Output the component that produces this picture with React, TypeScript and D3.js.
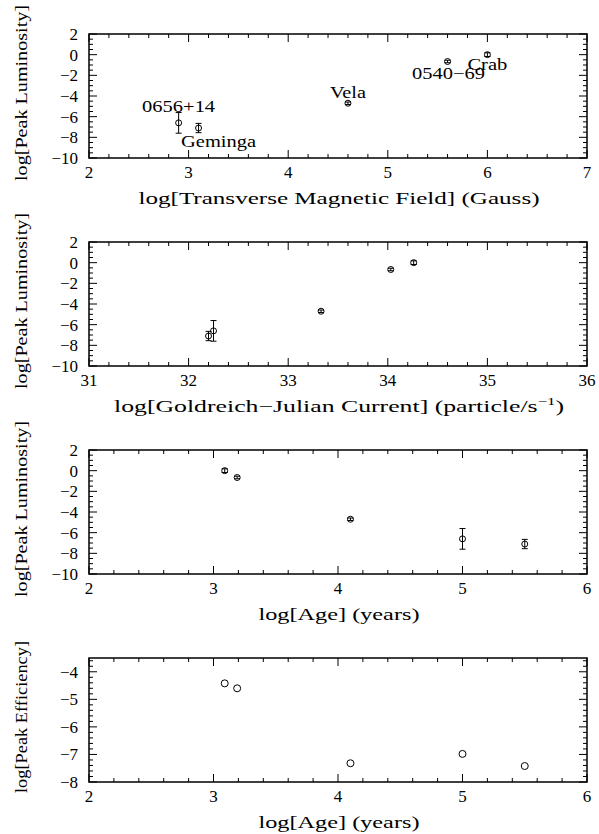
import React from 'react';
import * as d3 from 'd3';

// pulsar order: Crab, 0540-69, Vela, 0656+14, Geminga
const pulsars = ['Crab', '0540\u221269', 'Vela', '0656+14', 'Geminga'];
const logB = [6.0, 5.6, 4.6, 2.9, 3.1];
const logGJ = [34.26, 34.03, 33.33, 32.25, 32.2];
const logAge = [3.09, 3.19, 4.1, 5.0, 5.5];
const logLum = [0.0, -0.66, -4.7, -6.6, -7.1];
const lumErr = [0.18, 0.12, 0.12, 1.0, 0.45];
const logEff = [-4.42, -4.6, -7.32, -6.98, -7.42];

// label placement for the top panel (dx, dy from the point, text width)
const labelOffsets: [number, number, number][] = [[0, 15, 40], [1, 18, 73], [0, -5, 36], [0, -11, 73], [20, 19, 75]];

const W = 599;
const H = 834;
const left = 89;
const right = 587;
const font = '"Liberation Serif", "Times New Roman", serif';
const fs = 17;

interface PanelProps {
  top: number;
  bottom: number;
  xDomain: [number, number];
  yDomain: [number, number];
  xs: number[];
  ys: number[];
  errs?: number[];
  xMinor: number;
  yMajor: number;
  yMinor: number;
  xLabel: React.ReactNode;
  xLabelLen: number;
  yLabel: string;
  yLabelLen: number;
  labels?: boolean;
  r?: number;
}

const range = (a: number, b: number, s: number) => {
  const out: number[] = [];
  const n = Math.round((b - a) / s);
  for (let i = 0; i <= n; i++) out.push(+(a + i * s).toFixed(6));
  return out;
};

const Panel: React.FC<PanelProps> = ({ top, bottom, xDomain, yDomain, xs, ys, errs, xMinor, yMajor, yMinor, xLabel, xLabelLen, yLabel, yLabelLen, labels, r = 3 }) => {
  const x = d3.scaleLinear().domain(xDomain).range([left, right]);
  const y = d3.scaleLinear().domain(yDomain).range([bottom, top]);
  const xMaj = range(xDomain[0], xDomain[1], 1);
  const xMin = range(xDomain[0], xDomain[1], xMinor);
  const yMaj = range(Math.ceil(yDomain[0] / yMajor) * yMajor, Math.floor(yDomain[1] / yMajor) * yMajor, yMajor);
  const yMin = range(Math.ceil(yDomain[0] / yMinor) * yMinor, Math.floor(yDomain[1] / yMinor + 1e-6) * yMinor, yMinor);
  const isMaj = (v: number, arr: number[]) => arr.some(a => Math.abs(a - v) < 1e-6);
  const fmt = (v: number) => (v < 0 ? '\u2212' + Math.abs(v) : String(v));
  const cap = 3;
  return (
    <g>
      <rect x={left} y={top} width={right - left} height={bottom - top} fill="none" stroke="#000" strokeWidth={1.5} />
      {xMin.map(v => {
        const L = isMaj(v, xMaj) ? 8 : 4;
        return (
          <g key={'x' + v}>
            <line x1={x(v)} x2={x(v)} y1={bottom} y2={bottom - L} stroke="#000" />
            <line x1={x(v)} x2={x(v)} y1={top} y2={top + L} stroke="#000" />
          </g>
        );
      })}
      {yMin.map(v => {
        const L = isMaj(v, yMaj) ? 8 : 4;
        return (
          <g key={'y' + v}>
            <line x1={left} x2={left + L} y1={y(v)} y2={y(v)} stroke="#000" />
            <line x1={right} x2={right - L} y1={y(v)} y2={y(v)} stroke="#000" />
          </g>
        );
      })}
      {xMaj.map(v => (
        <text key={'xl' + v} x={x(v)} y={bottom + 20} textAnchor="middle" fontFamily={font} fontSize={fs}>{v}</text>
      ))}
      {yMaj.map(v => (
        <text key={'yl' + v} x={78} y={y(v) + 6} textAnchor="end" fontFamily={font} fontSize={fs}>{fmt(v)}</text>
      ))}
      <text x={(left + right) / 2 + 1} y={bottom + 46} textAnchor="middle" fontFamily={font} fontSize={fs}
        textLength={xLabelLen} lengthAdjust="spacingAndGlyphs">{xLabel}</text>
      <text transform={`translate(27,${(top + bottom) / 2 - 3}) rotate(-90)`} textAnchor="middle" fontFamily={font} fontSize={fs}
        textLength={yLabelLen} lengthAdjust="spacingAndGlyphs">{yLabel}</text>
      {xs.map((xv, i) => (
        <g key={'p' + i}>
          {errs && (
            <g stroke="#000" strokeWidth={1}>
              <line x1={x(xv)} x2={x(xv)} y1={y(ys[i] - errs[i])} y2={y(ys[i] + errs[i])} />
              <line x1={x(xv) - cap} x2={x(xv) + cap} y1={y(ys[i] - errs[i])} y2={y(ys[i] - errs[i])} />
              <line x1={x(xv) - cap} x2={x(xv) + cap} y1={y(ys[i] + errs[i])} y2={y(ys[i] + errs[i])} />
            </g>
          )}
          <circle cx={x(xv)} cy={y(ys[i])} r={r} fill="none" stroke="#000" strokeWidth={1} />
          {labels && (
            <text x={x(xv) + labelOffsets[i][0]} y={y(ys[i]) + labelOffsets[i][1]} textAnchor="middle" fontFamily={font} fontSize={fs}
              textLength={labelOffsets[i][2]} lengthAdjust="spacingAndGlyphs">{pulsars[i]}</text>
          )}
        </g>
      ))}
    </g>
  );
};

const App: React.FC = () => (
  <svg width={W} height={H} style={{ position: 'absolute', left: 0, top: 0, background: '#fff' }}>
    <Panel top={34} bottom={158} xDomain={[2, 7]} yDomain={[-10, 2]} xs={logB} ys={logLum} errs={lumErr}
      xMinor={0.2} yMajor={2} yMinor={0.5} xLabel="log[Transverse Magnetic Field] (Gauss)" xLabelLen={401}
      yLabel="log[Peak Luminosity]" yLabelLen={176} labels />
    <Panel top={242} bottom={366} xDomain={[31, 36]} yDomain={[-10, 2]} xs={logGJ} ys={logLum} errs={lumErr}
      xMinor={0.2} yMajor={2} yMinor={0.5}
      xLabel={<>log[Goldreich{'\u2212'}Julian Current] (particle/s<tspan dy={-7} fontSize={11}>{'\u2212'}1</tspan><tspan dy={7}>)</tspan></>}
      xLabelLen={450} yLabel="log[Peak Luminosity]" yLabelLen={176} />
    <Panel top={450} bottom={574} xDomain={[2, 6]} yDomain={[-10, 2]} xs={logAge} ys={logLum} errs={lumErr}
      xMinor={0.2} yMajor={2} yMinor={0.5} xLabel="log[Age] (years)" xLabelLen={161}
      yLabel="log[Peak Luminosity]" yLabelLen={176} />
    <Panel top={658} bottom={782} xDomain={[2, 6]} yDomain={[-8, -3.5]} xs={logAge} ys={logEff}
      xMinor={0.2} yMajor={1} yMinor={0.2} xLabel="log[Age] (years)" xLabelLen={161}
      yLabel="log[Peak Efficiency]" yLabelLen={152} r={3.5} />
  </svg>
);

export default App;
